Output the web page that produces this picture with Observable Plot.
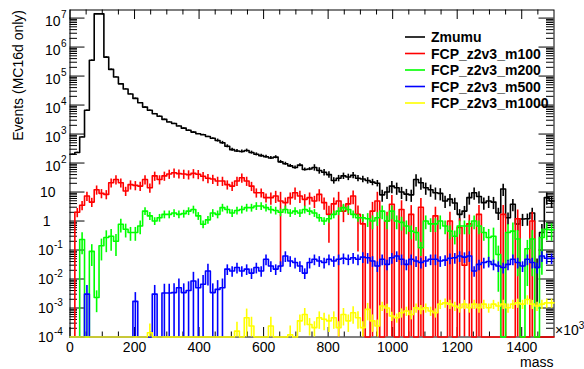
<!DOCTYPE html>
<html><head><meta charset="utf-8">
<script src="https://cdn.jsdelivr.net/npm/d3@7"></script>
<script src="https://cdn.jsdelivr.net/npm/@observablehq/plot@0.6"></script>
<style>
html,body{margin:0;padding:0;background:#fff;}
#chart{width:584px;height:369px;overflow:hidden;}
</style></head><body><div id="chart"></div>
<script>
// ---- data: 100 bins of 15 (x10^3) in mass, 0..1500 ----
const binWidth = 15;
const seriesNames = ["Zmumu","FCP_z2v3_m100","FCP_z2v3_m200","FCP_z2v3_m500","FCP_z2v3_m1000"];
const seriesColors = ["#000000","#ff0000","#00ff00","#0000ff","#ffff00"];

const zmumu = [200,230,790,6600,3.5e5,1.4e7,1.4e7,4.5e5,1.7e5,9.3e4,
5.4e4,3.6e4,2.4e4,1.7e4,1.2e4,8500,6600,5000,4100,3200,
2600,2300,1900,1600,1350,1170,1020,950,820,720,
600,500,380,290,260,250,270,230,200,180,
165,150,160,110,95,80,70,85,60,62,
70,55,48,40,25,30,36,33,38,30,
28,25,22,20,8,10,16,14,10,8.5,
8,27,21,14,12,9.5,9,4.9,5.7,4.2,
1.7,2.2,6.4,9.5,7,4.3,4.9,4.5,1.9,12.7,
1.3,3.8,0.79,1.17,1.2,1.9,0.025,0.4,6.4,4.9];
const zmumuErr = [0.03,0.03,0.03,0.03,0.03,0.03,0.03,0.03,0.03,0.03,
0.03,0.03,0.03,0.03,0.03,0.03,0.03,0.03,0.03,0.03,
0.03,0.03,0.03,0.03,0.03,0.03,0.03,0.03,0.03,0.03,
0.12,0.12,0.12,0.12,0.12,0.12,0.12,0.12,0.12,0.12,
0.12,0.12,0.12,0.12,0.12,0.12,0.12,0.12,0.12,0.12,
0.25,0.25,0.25,0.25,0.25,0.25,0.25,0.25,0.25,0.25,
0.25,0.25,0.25,0.25,0.45,0.45,0.45,0.45,0.45,0.45,
0.45,0.45,0.45,0.45,0.45,0.45,0.45,0.45,0.45,0.45,
0.45,0.45,0.45,0.45,0.45,0.45,0.45,0.45,0.45,0.45,
0.45,0.45,0.45,0.45,0.45,0.45,0.95,0.9,0.45,0.45];

const m100 = [0,2.0,3.5,7.3,4.5,12,9,8.3,21,27,
21,10.8,18,17,16,27,14,36,27,36,
42,46,43,42,40,44,41,35,30,28,
24,24,18,16,24,31,24,16,9.5,9.5,
6.4,6.4,7.3,4.9,4.3,6.4,9.5,7.3,5.6,6.4,
4.9,8.3,4.3,1.7,3.9,4.9,2.2,3.9,7.3,1.7,
0.8,0,2.2,4.9,0,1.0,3.8,0,2.5,0,
1.7,0,3.0,0,0,1.5,0,0,1.0,0,
0.6,0.03,0.8,0,1.7,0,0,0,0,1.7,
0,0,1.2,0,0,1.0,0,0,0,0];
const m100Err = [0,0.35,0.35,0.35,0.35,0.35,0.35,0.35,0.35,0.35,
0.35,0.35,0.35,0.35,0.35,0.35,0.35,0.35,0.35,0.35,
0.35,0.35,0.35,0.35,0.35,0.35,0.35,0.35,0.35,0.35,
0.35,0.35,0.35,0.35,0.35,0.35,0.35,0.35,0.35,0.35,
0.35,0.45,0.45,0.995,0.45,0.45,0.45,0.45,0.45,0.45,
0.45,0.45,0.45,0.9,0.6,1,0.6,0.6,0.5,0.95,
1,1,1,1,1,1,1,1,1,1,
1,1,1,1,1,1,1,1,1,1,
1,1,1,1,1,1,1,1,1,1,
1,1,1,1,1,1,1,1,1,1];

const m200 = [0,0,0.23,0,0.09,0.0023,0.14,0.27,0.3,0.2,
0.77,0.52,0.4,0.4,0.67,2.2,1.5,1.0,1.3,1.7,
1.7,1.9,1.7,1.8,2.2,2.5,1.5,0.77,1.1,1.9,
1.7,2.9,2.5,1.9,2.3,2.5,2.9,2.9,3.3,3.3,
2.9,2.5,2.3,2.0,2.5,1.9,2.2,1.9,2.5,2.2,
1.9,1.3,1.0,1.2,1.7,2.2,2.9,2.5,1.7,1.3,
1.3,1.2,1.0,1.3,2.2,1.0,2.2,1.0,0.9,0.67,
0.45,0.4,0.12,1.0,0.8,0.8,1.0,0.67,0.45,0.3,
0.67,0.67,0.67,1.0,0.67,0.4,0.27,0.3,0.07,0,
0.4,0.45,0.24,0,0.11,0.24,0,0.27,0.52,0.5];
const m200Err = [0,0,0.7,0,0.7,0.7,0.7,0.7,0.7,0.7,
0.5,0.5,0.5,0.5,0.5,0.3,0.3,0.3,0.3,0.3,
0.3,0.3,0.3,0.3,0.3,0.3,0.3,0.3,0.3,0.3,
0.3,0.3,0.3,0.3,0.3,0.3,0.3,0.3,0.3,0.3,
0.3,0.3,0.3,0.3,0.3,0.3,0.3,0.3,0.3,0.3,
0.3,0.3,0.3,0.3,0.3,0.3,0.3,0.3,0.3,0.3,
0.3,0.5,0.5,0.5,0.5,0.5,0.5,0.5,0.5,0.5,
0.5,0.5,0.5,0.5,0.5,0.5,0.5,0.5,0.5,0.5,
0.5,0.5,0.5,0.5,0.5,0.5,0.9,0.9,0.95,0,
0.9,0.9,0.95,0,0.95,0.95,0,0.95,0.6,0.6];

const m500 = [0,0,0,0.003,0,0,0,0,0,0,
0,0,0,0.0017,0,0,0,0.003,0,0.0033,
0.0033,0.0034,0.005,0.0034,0.004,0.0085,0.005,0.0066,0.019,0.0034,
0.0044,0.005,0.022,0.019,0.025,0.019,0.022,0.016,0.025,0.019,
0.048,0.028,0.022,0.028,0.062,0.042,0.037,0.028,0.016,0.037,
0.048,0.042,0.037,0.048,0.042,0.048,0.052,0.048,0.054,0.048,
0.057,0.054,0.042,0.028,0.048,0.032,0.054,0.062,0.048,0.032,
0.048,0.042,0.037,0.042,0.048,0.048,0.042,0.045,0.052,0.054,
0.062,0.057,0.062,0.019,0.032,0.037,0.04,0.032,0.028,0.025,
0.032,0.048,0.037,0.028,0.048,0.037,0.025,0.062,0.052,0.052];
const m500Err = [1,1,1,1,1,1,1,1,1,1,
1,1,1,1,1,1,1,1,1,1,
1,1,1,1,1,1,1,1,0.7,1,
1,1,0.4,0.4,0.4,0.4,0.4,0.4,0.4,0.4,
0.4,0.4,0.4,0.4,0.4,0.4,0.4,0.4,0.4,0.4,
0.4,0.4,0.4,0.4,0.4,0.4,0.4,0.4,0.4,0.4,
0.4,0.4,0.4,0.4,0.4,0.4,0.4,0.4,0.4,0.4,
0.4,0.4,0.4,0.4,0.4,0.4,0.4,0.4,0.4,0.4,
0.4,0.4,0.4,0.4,0.4,0.4,0.4,0.4,0.4,0.4,
0.4,0.4,0.4,0.4,0.4,0.4,0.4,0.4,0.4,0.4];

const m1000 = [0,0,0,0,0,0,0,0,0,0,
0,0,0,0,0,0,1.4e-4,0,0,0,
0,0,0,0,0,0,0,0,0,0,
0,0,0,0,1.6e-4,0,4.6e-4,2.4e-4,0,0,
0,2.4e-4,0,0,0,1.2e-4,0,3.6e-4,6e-4,2.7e-4,
2.1e-4,4.6e-4,4.1e-4,3.6e-4,4.6e-4,2.1e-4,6e-4,3.6e-4,6.9e-4,4.6e-4,
2.1e-4,9e-4,3.6e-4,2.4e-4,1.17e-3,1.0e-3,5.3e-4,4.6e-4,6.9e-4,7.9e-4,
6e-4,1.02e-3,9e-4,1.02e-3,7.9e-4,6.9e-4,1.36e-3,1.5e-3,1.36e-3,1.17e-3,
1.02e-3,1.36e-3,1.02e-3,1.36e-3,1.02e-3,1.36e-3,1.02e-3,1.36e-3,1.17e-3,1.36e-3,
1.02e-3,1.36e-3,1.5e-3,1.36e-3,1.96e-3,1.36e-3,1.17e-3,1.36e-3,1.5e-3,1.5e-3];
const m1000Err = [1,1,1,1,1,1,1,1,1,1,
1,1,1,1,1,1,1,1,1,1,
1,1,1,1,1,1,1,1,1,1,
1,1,1,1,1,1,1,1,1,1,
1,1,1,1,1,1,1,0.6,0.6,0.6,
0.6,0.6,0.6,0.6,0.6,0.6,0.6,0.6,0.6,0.6,
0.6,0.6,0.6,0.6,0.35,0.35,0.35,0.35,0.35,0.35,
0.35,0.35,0.35,0.35,0.35,0.35,0.35,0.35,0.35,0.35,
0.35,0.35,0.35,0.35,0.35,0.35,0.35,0.35,0.35,0.35,
0.35,0.35,0.35,0.35,0.35,0.35,0.35,0.35,0.35,0.35];

const xTickLabels = [0,200,400,600,800,1000,1200,1400];
const yTickValues = [1e-4,1e-3,1e-2,1e-1,1,10,1e2,1e3,1e4,1e5,1e6,1e7];
const yTickBases  = ["10","10","10","10","1","10","10","10","10","10","10","10"];
const yTickExps   = ["-4","-3","-2","-1","","","2","3","4","5","6","7"];
const xTitle = "mass";
const yTitle = "Events (MC16d only)";

// ---- build ----
const YMIN = 1e-4, YMAX = 1.9e7, XMAX = 1500;
const allVals = [zmumu, m100, m200, m500, m1000];
const allErrs = [zmumuErr, m100Err, m200Err, m500Err, m1000Err];
const nBins = zmumu.length;

function stepPoints(vals){
  const pts = vals.map((v,i)=>({x:i*binWidth, y:Math.max(v,YMIN)}));
  pts.push({x:nBins*binWidth, y:Math.max(vals[nBins-1],YMIN)});
  return pts;
}
function errBars(vals, errs){
  return vals.map((v,i)=>({x:(i+0.5)*binWidth, v,
     y1:Math.max(v*(1-errs[i]), YMIN), y2:Math.min(v*(1+errs[i]), YMAX)}))
     .filter(d=>d.v>0);
}

const xMinor = d3.range(50, XMAX, 50).filter(v=>v%200!==0);
const xMajor = d3.range(0, XMAX+1, 200);
const yMinor = [];
for (let e=-4; e<=7; e++) for (let k=2;k<=9;k++){ const v=k*Math.pow(10,e); if (v<YMAX) yMinor.push(v); }

const W = 584, H = 369, mL = 69.5, mR = 30.5, mT = 9.5, mB = 32.5;
const fw = W-mL-mR, fh = H-mT-mB;

const yLabels = yTickValues.map((v,i)=>({v, base:yTickBases[i], exp:yTickExps[i]}));
const posLab = yLabels.filter(d=>d.exp && d.exp[0]!=="-");
const negLab = yLabels.filter(d=>d.exp && d.exp[0]==="-");
const tenLab = yLabels.filter(d=>!d.exp && d.base==="10");
const oneLab = yLabels.filter(d=>!d.exp && d.base==="1");

const marks = [];
// ticks (inside, mirrored)
marks.push(Plot.ruleX(xMajor, {x:d=>d, insetBottom:fh-9.5, stroke:"#000"}));
marks.push(Plot.ruleX(xMajor, {x:d=>d, insetTop:fh-9.5, stroke:"#000"}));
marks.push(Plot.ruleX(xMinor, {x:d=>d, insetBottom:fh-5, stroke:"#000"}));
marks.push(Plot.ruleX(xMinor, {x:d=>d, insetTop:fh-5, stroke:"#000"}));
marks.push(Plot.ruleY(yTickValues, {y:d=>d, insetRight:fw-15, stroke:"#000"}));
marks.push(Plot.ruleY(yTickValues, {y:d=>d, insetLeft:fw-15, stroke:"#000"}));
marks.push(Plot.ruleY(yMinor, {y:d=>d, insetRight:fw-7.5, stroke:"#000"}));
marks.push(Plot.ruleY(yMinor, {y:d=>d, insetLeft:fw-7.5, stroke:"#000"}));
marks.push(Plot.frame({stroke:"#000", strokeWidth:1}));

// histograms
allVals.forEach((vals, s)=>{
  marks.push(Plot.line(stepPoints(vals), {x:"x", y:"y", curve:"step-after", stroke:seriesColors[s], strokeWidth:1.6}));
  marks.push(Plot.ruleX(errBars(vals, allErrs[s]), {x:"x", y1:"y1", y2:"y2", stroke:seriesColors[s], strokeWidth:1.6}));
});

// tick labels
marks.push(Plot.text(xTickLabels, {x:d=>d, text:d=>String(d), frameAnchor:"bottom", lineAnchor:"top", dy:5, fontSize:14}));
marks.push(Plot.text(posLab, {y:"v", text:"base", frameAnchor:"left", textAnchor:"end", dx:-9.5, dy:3, fontSize:14}));
marks.push(Plot.text(posLab, {y:"v", text:"exp", frameAnchor:"left", textAnchor:"start", dx:-9, dy:-3, fontSize:10}));
marks.push(Plot.text(negLab, {y:"v", text:"base", frameAnchor:"left", textAnchor:"end", dx:-16.5, dy:0.5, fontSize:14}));
marks.push(Plot.text(negLab, {y:"v", text:"exp", frameAnchor:"left", textAnchor:"start", dx:-16, dy:-5, fontSize:10}));
marks.push(Plot.text(tenLab, {y:"v", text:"base", frameAnchor:"left", textAnchor:"end", dx:-14.5, dy:0.5, fontSize:14}));
marks.push(Plot.text(oneLab, {y:"v", text:"base", frameAnchor:"left", textAnchor:"end", dx:-19.5, dy:0.5, fontSize:14}));

const svg = Plot.plot({
  width:W, height:H, marginLeft:mL, marginRight:mR, marginTop:mT, marginBottom:mB,
  x:{domain:[0,XMAX], axis:null},
  y:{type:"log", domain:[YMIN,YMAX], axis:null},
  style:{fontFamily:"'Liberation Sans', Arial, Helvetica, sans-serif", fontSize:"14px", background:"#fff", color:"#000"},
  marks
});
document.getElementById("chart").appendChild(svg);

// annotations: axis titles, x10^3 and legend
const g = d3.select(svg).append("g")
  .attr("font-family","'Liberation Sans', Arial, Helvetica, sans-serif")
  .attr("fill","#000").attr("text-anchor","start");
g.append("text").attr("transform","translate(22.5,10) rotate(-90)").attr("text-anchor","end").attr("font-size",14).text(yTitle);
g.append("text").attr("x",W-mR).attr("y",367).attr("text-anchor","end").attr("font-size",14).text(xTitle);
const xt = g.append("text").attr("x",555).attr("y",335).attr("text-anchor","start").attr("font-size",14);
xt.append("tspan").text("\u00d710");
xt.append("tspan").attr("font-size",10).attr("dy",-6).text("3");

seriesNames.forEach((name,i)=>{
  const cy = 37 + 16.5*i;
  g.append("line").attr("x1",405).attr("x2",425).attr("y1",cy).attr("y2",cy).attr("stroke",seriesColors[i]).attr("stroke-width",1.6);
  g.append("text").attr("x",431).attr("y",cy+5).attr("text-anchor","start").attr("font-size",14).attr("font-weight","bold").text(name);
});
</script>
</body></html>
